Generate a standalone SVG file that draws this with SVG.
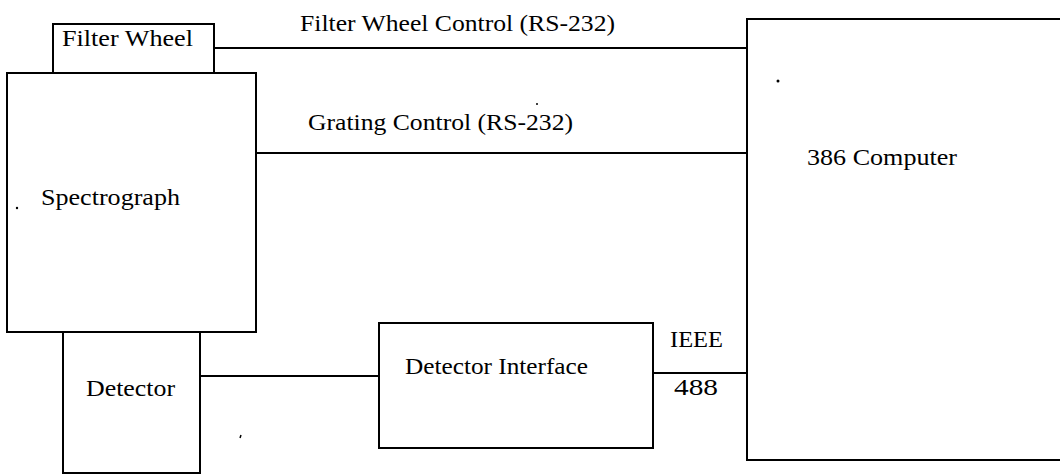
<svg xmlns="http://www.w3.org/2000/svg" width="1060" height="475" viewBox="0 0 1060 475">
<style>
.box{fill:#fff;stroke:#000;stroke-width:2}
.ln{stroke:#000;stroke-width:2;fill:none}
text{font-family:"Liberation Serif","Times New Roman",serif;font-size:24px;fill:#000}
</style>
<rect width="1060" height="475" fill="#fff"/>
<g id="connectors">
<line class="ln" x1="214" y1="48" x2="747" y2="48"/>
<line class="ln" x1="256" y1="153" x2="747" y2="153"/>
<line class="ln" x1="200" y1="376" x2="380" y2="376"/>
<line class="ln" x1="653" y1="373" x2="747" y2="373"/>
<text x="300" y="31" textLength="315" lengthAdjust="spacingAndGlyphs">Filter Wheel Control (RS-232)</text>
<text x="308" y="130" textLength="265" lengthAdjust="spacingAndGlyphs">Grating Control (RS-232)</text>
<text x="670" y="347" textLength="53" lengthAdjust="spacingAndGlyphs">IEEE</text>
<text x="674" y="395" textLength="44" lengthAdjust="spacingAndGlyphs">488</text>
</g>
<g id="filter-wheel">
<rect class="box" x="53" y="24" width="161" height="49"/>
<text x="62" y="46" textLength="131" lengthAdjust="spacingAndGlyphs">Filter Wheel</text>
</g>
<g id="spectrograph">
<rect class="box" x="7" y="73" width="249" height="259"/>
<text x="41" y="205" textLength="139" lengthAdjust="spacingAndGlyphs">Spectrograph</text>
</g>
<g id="detector">
<rect class="box" x="63" y="332" width="137" height="141"/>
<text x="86" y="396" textLength="89" lengthAdjust="spacingAndGlyphs">Detector</text>
</g>
<g id="detector-interface">
<rect class="box" x="379" y="323" width="274" height="125"/>
<text x="405" y="374" textLength="183" lengthAdjust="spacingAndGlyphs">Detector Interface</text>
</g>
<g id="computer">
<rect class="box" x="747" y="19" width="330" height="441"/>
<text x="807" y="165" textLength="150" lengthAdjust="spacingAndGlyphs">386 Computer</text>
</g>
<g id="specks" fill="#000">
<circle cx="778" cy="81" r="1.5"/>
<circle cx="17" cy="208" r="1.2"/>
<circle cx="537" cy="104" r="1"/>
<line x1="241" y1="435" x2="240" y2="438" stroke="#000" stroke-width="1.5"/>
</g>
</svg>
